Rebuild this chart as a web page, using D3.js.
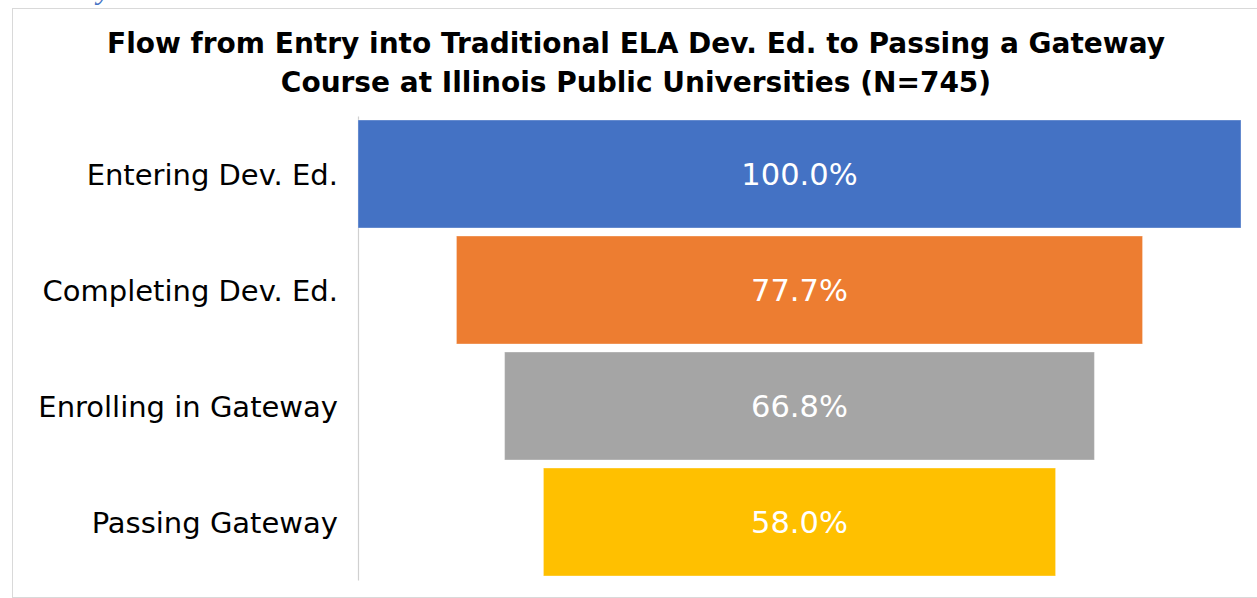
<!DOCTYPE html>
<html>
<head>
<meta charset="utf-8">
<script src="https://cdn.jsdelivr.net/npm/d3@7"></script>
<style>
  body { margin: 0; background: #fff; }
  svg { display: block; }
</style>
</head>
<body>
<div id="chart"></div>
<script>
const stages = ["Entering Dev. Ed.", "Completing Dev. Ed.", "Enrolling in Gateway", "Passing Gateway"];
const shares = [100.0, 77.7, 66.8, 58.0];
const colors = ["#4472C4", "#ED7D31", "#A5A5A5", "#FFC000"];
const titleLines = [
  "Flow from Entry into Traditional ELA Dev. Ed. to Passing a Gateway",
  "Course at Illinois Public Universities (N=745)"
];

const W = 1257, H = 598;
const plotLeft = 358, plotW = 883, plotTop = 116, plotBottom = 580;
const cx = plotLeft + plotW / 2;
const font = "'DejaVu Sans', sans-serif";

const svg = d3.select("#chart").append("svg")
  .attr("width", W)
  .attr("height", H);

// caption of the page above, cut by the crop
svg.append("text")
  .attr("x", 4)
  .attr("y", -1)
  .style("font-family", "'Liberation Serif', serif")
  .style("font-style", "italic")
  .style("font-size", "30px")
  .style("fill", "#4472C4")
  .text("Gateway Course at Illinois Public Universities");

// chart frame
svg.append("rect")
  .attr("x", 12.5)
  .attr("y", 8.5)
  .attr("width", W + 20)
  .attr("height", 589)
  .attr("fill", "none")
  .attr("stroke", "#d9d9d9")
  .attr("stroke-width", 1);

svg.selectAll(".title")
  .data(titleLines)
  .enter().append("text")
  .attr("class", "title")
  .attr("x", 636)
  .attr("y", (d, i) => 53 + i * 39)
  .attr("text-anchor", "middle")
  .style("font-family", font)
  .style("font-weight", "bold")
  .style("font-size", "28px")
  .style("fill", "#000")
  .text(d => d);

const x = d3.scaleLinear().domain([0, 100]).range([0, plotW]);
const y = d3.scaleBand().domain(stages).range([plotTop, plotBottom])
  .paddingInner(0.069).paddingOuter(0.0345);

// category axis: line plus labels, no ticks
const yAxis = svg.append("g")
  .attr("transform", `translate(${plotLeft},0)`)
  .call(d3.axisLeft(y).tickSize(0).tickPadding(20));
yAxis.select(".domain").attr("stroke", "#d0d0d0").attr("stroke-width", 1.2);
yAxis.selectAll("text")
  .attr("dy", "0.38em")
  .style("font-family", font)
  .style("font-size", "29px")
  .style("fill", "#000");

svg.selectAll(".bar")
  .data(stages)
  .enter().append("rect")
  .attr("class", "bar")
  .attr("x", (d, i) => cx - x(shares[i]) / 2)
  .attr("y", d => y(d))
  .attr("width", (d, i) => x(shares[i]))
  .attr("height", y.bandwidth())
  .attr("fill", (d, i) => colors[i])
  .attr("stroke", "rgba(255,255,255,0.35)")
  .attr("stroke-width", 1);

svg.selectAll(".bar-label")
  .data(stages)
  .enter().append("text")
  .attr("class", "bar-label")
  .attr("x", cx)
  .attr("y", d => y(d) + y.bandwidth() / 2)
  .attr("dy", "0.36em")
  .attr("text-anchor", "middle")
  .style("font-family", font)
  .style("font-size", "30.5px")
  .style("fill", "#fff")
  .text((d, i) => d3.format(".1f")(shares[i]) + "%");
</script>
</body>
</html>
